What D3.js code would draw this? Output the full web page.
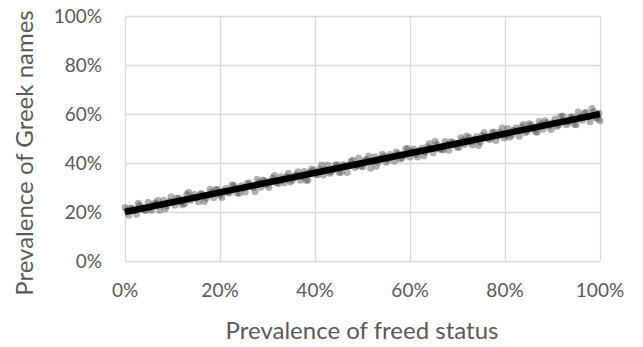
<!DOCTYPE html>
<html><head><meta charset="utf-8">
<script src="https://cdn.jsdelivr.net/npm/d3@7"></script>
<style>
html,body{margin:0;padding:0;background:#fff;}
svg{display:block;}
text{font-family:Lato,"Open Sans",sans-serif;fill:#595959;}
</style></head>
<body><svg id="chart" width="643" height="347"></svg>
<script>
// Data (percent values)
const freedStatusA = [0,0.8,1.5,2.4,3.1,4.0,4.9,5.6,6.5,7.3,8.1,8.8,9.7,10.5,11.4,12.1,13.0,13.8,14.6,15.5,16.2,17.1,17.9,18.7,19.5,20.4,21.2,22.0,22.9,23.6,24.5,25.3,26.1,27.0,27.8,28.6,29.4,30.3,31.1,31.9,32.8,33.5,34.4,35.2,36.0,36.9,37.7,38.5,39.3,40.2,41.0,41.8,42.7,43.4,44.3,45.1,45.9,46.8,47.6,48.4,49.2,50.1,50.9,51.7,52.6,53.3,54.2,55.0,55.8,56.7,57.5,58.3,59.1,60.0,60.8,61.6,62.5,63.2,64.1,64.9,65.7,66.6,67.4,68.2,69.0,69.9,70.7,71.5,72.4,73.1,74.0,74.8,75.6,76.5,77.3,78.1,78.9,79.8,80.6,81.4,82.3,83.0,83.9,84.7,85.5,86.4,87.2,88.0,88.8,89.7,90.5,91.3,92.2,92.9,93.8,94.6,95.4,96.3,97.1,97.9,98.7,99.5,100.0];
const greekNamesA = [21.8,18.7,21.5,19.1,22.7,20.8,24.0,20.7,23.8,20.7,24.8,22.6,26.2,22.8,25.6,23.0,27.1,24.8,27.1,24.2,27.3,25.6,29.3,25.8,29.2,25.9,29.6,27.8,30.9,27.8,30.7,28.2,31.9,30.0,33.3,30.1,32.8,30.0,34.0,31.9,34.4,31.9,35.8,33.0,35.2,33.0,36.5,33.0,37.6,35.3,37.6,35.1,39.2,36.4,39.2,36.1,39.3,36.1,40.7,38.2,42.0,38.5,41.4,37.9,42.6,40.4,43.6,40.3,43.5,40.7,43.8,42.0,45.8,42.4,45.7,42.4,46.0,44.4,48.0,44.2,47.6,45.5,48.8,45.2,48.5,46.5,50.3,47.6,50.5,47.3,50.7,48.5,52.4,49.8,52.5,49.2,52.6,50.2,54.1,51.4,54.3,50.9,55.7,53.0,55.5,52.8,56.9,53.8,56.4,53.7,57.9,55.5,59.2,55.6,58.7,55.8,60.8,57.4,60.6,56.8,61.0,58.1,57.2];
const freedStatusB = [0.4,1.1,2.0,2.8,3.6,4.4,5.2,6.1,6.9,7.7,8.5,9.3,10.1,10.9,11.8,12.6,13.4,14.2,15.0,15.9,16.7,17.5,18.3,19.1,20.0,20.8,21.6,22.5,23.3,24.1,24.9,25.7,26.6,27.4,28.2,29.0,29.8,30.7,31.5,32.3,33.1,34.0,34.8,35.6,36.4,37.3,38.1,38.9,39.7,40.6,41.4,42.2,43.1,43.9,44.7,45.5,46.3,47.2,48.0,48.8,49.7,50.5,51.3,52.1,52.9,53.8,54.6,55.4,56.2,57.1,57.9,58.7,59.5,60.4,61.2,62.0,62.9,63.7,64.5,65.3,66.1,67.0,67.8,68.6,69.4,70.3,71.1,71.9,72.8,73.6,74.4,75.2,76.0,76.9,77.7,78.5,79.4,80.2,81.0,81.8,82.7,83.5,84.3,85.1,86.0,86.8,87.6,88.4,89.3,90.1,90.9,91.7,92.6,93.4,94.2,95.0,95.9,96.7,97.5,98.3,99.1,99.8];
const greekNamesB = [20.6,21.5,20.5,23.6,21.6,20.6,21.6,23.3,24.7,22.9,21.3,24.3,24.1,25.7,24.0,23.5,28.1,26.0,25.6,27.4,24.3,26.9,28.1,29.2,26.9,28.5,28.0,31.0,29.8,27.7,29.7,31.5,30.6,28.4,32.0,33.1,31.1,32.7,34.9,31.6,33.0,34.5,32.2,34.3,36.4,34.4,33.0,36.2,37.0,35.3,39.2,37.2,35.8,37.5,39.3,36.2,39.0,39.1,41.1,38.9,38.7,41.0,42.9,40.5,38.7,41.9,42.8,41.4,42.6,44.5,41.6,43.1,45.9,44.8,43.5,45.1,42.9,46.7,45.8,48.9,45.7,45.3,47.6,48.7,47.6,46.3,49.3,51.0,48.6,49.6,47.1,51.2,50.8,49.7,52.7,51.1,54.3,51.2,50.5,53.4,53.2,54.8,52.4,56.0,54.0,52.6,55.8,57.2,55.1,56.3,54.9,59.0,57.0,56.6,58.9,55.6,59.0,60.4,58.8,62.2,58.6,60.2];
// Trend line end points
const trendX = [0, 100];
const trendY = [20, 60];
const xTicks = [0, 20, 40, 60, 80, 100];
const yTicks = [0, 20, 40, 60, 80, 100];
const xTitle = "Prevalence of freed status";
const yTitle = "Prevalence of Greek names";

const svg = d3.select("#chart");
const L = 125, R = 600, T = 16, B = 261;
const x = d3.scaleLinear().domain([0, 100]).range([L, R]);
const y = d3.scaleLinear().domain([0, 100]).range([B, T]);
const fmt = d => d + "%";

// Gridlines
svg.append("g").attr("transform", `translate(0,${T})`)
  .call(d3.axisBottom(x).tickValues(xTicks).tickSize(B - T).tickFormat(""));
svg.append("g").attr("transform", `translate(${L},0)`)
  .call(d3.axisLeft(y).tickValues(yTicks).tickSize(-(R - L)).tickFormat(""));
svg.selectAll(".domain").remove();
svg.selectAll(".tick line").attr("stroke", "#d9d9d9").attr("stroke-width", 1.3);

// Tick labels
svg.append("g").selectAll("text").data(xTicks).join("text")
  .attr("x", d => x(d)).attr("y", 297)
  .attr("text-anchor", "middle").attr("font-size", 19).text(fmt);
svg.append("g").selectAll("text").data(yTicks).join("text")
  .attr("x", 102).attr("y", d => y(d) + 7)
  .attr("text-anchor", "end").attr("font-size", 19).text(fmt);

// Points
const pts = freedStatusA.map((v, i) => [v, greekNamesA[i]])
  .concat(freedStatusB.map((v, i) => [v, greekNamesB[i]]))
  .filter(d => d[0] != null && d[1] != null);
svg.append("g").selectAll("circle").data(pts).join("circle")
  .attr("cx", d => x(d[0])).attr("cy", d => y(d[1])).attr("r", 3.5)
  .attr("fill", "#3a3a3a").attr("fill-opacity", 0.4);

// Trend line
svg.append("path")
  .datum(trendX.map((v, i) => [v, trendY[i]]))
  .attr("d", d3.line().x(d => x(d[0])).y(d => y(d[1])))
  .attr("stroke", "#000").attr("stroke-width", 6.5).attr("fill", "none");

// Axis titles
svg.append("text").attr("x", 362).attr("y", 339)
  .attr("text-anchor", "middle").attr("font-size", 24).text(xTitle);
svg.append("text").attr("transform", "translate(33,153) rotate(-90)")
  .attr("text-anchor", "middle").attr("font-size", 24).text(yTitle);
</script></body></html>
